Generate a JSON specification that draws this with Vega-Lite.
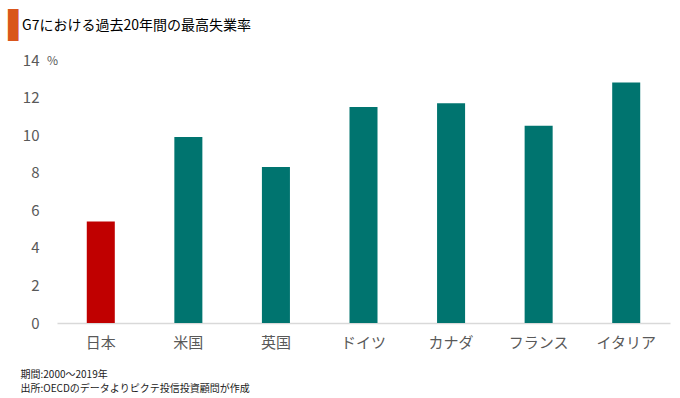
{
  "$schema": "https://vega.github.io/schema/vega-lite/v6.json",
  "width": 613,
  "height": 263,
  "autosize": {"type": "none"},
  "padding": {"left": 57, "top": 60, "right": 10, "bottom": 75},
  "background": "white",
  "config": {
    "view": {"stroke": null},
    "font": "Noto Sans CJK JP"
  },
  "title": {
    "text": "▌",
    "color": "#D9561C",
    "font": "DejaVu Sans",
    "fontSize": 27,
    "fontWeight": "normal",
    "anchor": "start",
    "frame": "group",
    "dx": -49,
    "dy": -9,
    "subtitle": "\u200b\u3000G7における過去20年間の最高失業率",
    "subtitleColor": "#000000",
    "subtitleFontSize": 14,
    "subtitleFont": "Noto Sans CJK JP",
    "subtitlePadding": -21
  },
  "data": {
    "values": [
      {"country": "日本", "rate": 5.4, "group": "japan"},
      {"country": "米国", "rate": 9.9, "group": "other"},
      {"country": "英国", "rate": 8.3, "group": "other"},
      {"country": "ドイツ", "rate": 11.5, "group": "other"},
      {"country": "カナダ", "rate": 11.7, "group": "other"},
      {"country": "フランス", "rate": 10.5, "group": "other"},
      {"country": "イタリア", "rate": 12.8, "group": "other"}
    ]
  },
  "mark": {"type": "bar"},
  "encoding": {
    "x": {
      "field": "country",
      "type": "nominal",
      "sort": null,
      "scale": {"paddingInner": 0.68, "paddingOuter": 0.34},
      "axis": {
        "labelAngle": 0,
        "labelFontSize": 15,
        "labelColor": "#595959",
        "labelPadding": 12,
        "ticks": false,
        "domainColor": "#D9D9D9",
        "domainWidth": 1.5,
        "title": ["期間:2000～2019年", "出所:OECDのデータよりピクテ投信投資顧問が作成"],
        "titleFontSize": 10,
        "titleFontWeight": "normal",
        "titleColor": "#222222",
        "titleAlign": "left",
        "titleAnchor": "start",
        "titleBaseline": "top",
        "titleX": -37,
        "titleY": 46,
        "titleLineHeight": 14
      }
    },
    "y": {
      "field": "rate",
      "type": "quantitative",
      "scale": {"domain": [0, 14], "nice": false},
      "axis": {
        "values": [0, 2, 4, 6, 8, 10, 12, 14],
        "grid": false,
        "domain": false,
        "ticks": false,
        "labelFontSize": 15,
        "labelColor": "#595959",
        "labelPadding": 18,
        "title": "%",
        "titleAngle": 0,
        "titleAlign": "center",
        "titleBaseline": "middle",
        "titleFontSize": 12,
        "titleFontWeight": "normal",
        "titleColor": "#595959",
        "titleX": -5,
        "titleY": 0
      }
    },
    "color": {
      "field": "group",
      "type": "nominal",
      "scale": {"domain": ["japan", "other"], "range": ["#C00000", "#00746F"]},
      "legend": null
    }
  }
}
